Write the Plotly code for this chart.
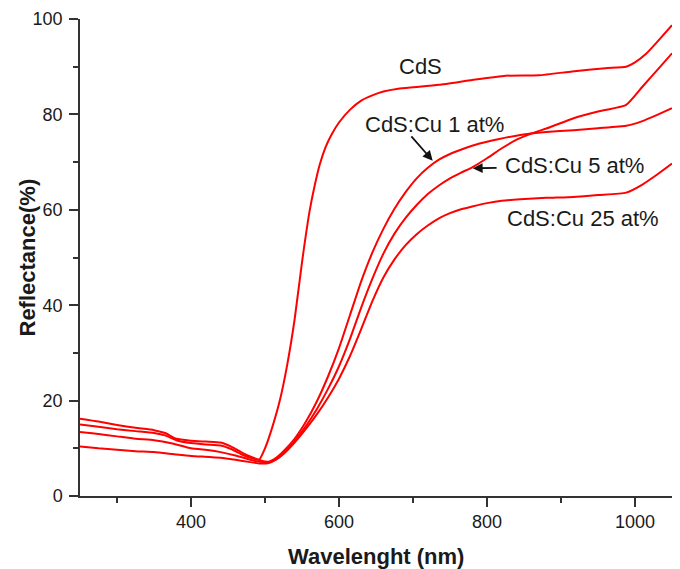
import plotly.graph_objects as go

# Diffuse reflectance spectra of CdS and Cu-doped CdS films
wl_cds = [250, 275, 300, 325, 350, 365, 380, 400, 420, 440, 455, 470, 485, 492,
          500, 510, 520, 530, 540, 550, 560, 567, 574, 582, 590, 600, 615, 630,
          645, 660, 680, 700, 735, 780, 825, 870, 915, 960, 988, 1000, 1015, 1030, 1050]
r_cds = [15.0, 14.5, 14.0, 13.6, 13.2, 12.7, 11.7, 11.1, 10.8, 10.6, 9.8, 8.6, 7.8, 7.6,
         10.0, 14.5, 20.0, 27.5, 37.0, 49.0, 59.5, 65.0, 69.5, 73.2, 75.8, 78.3, 81.0, 82.9,
         84.0, 84.8, 85.4, 85.7, 86.2, 87.2, 88.1, 88.2, 89.0, 89.7, 90.0, 90.9, 92.7, 95.2, 98.7]

wl_cu1 = [250, 275, 300, 325, 350, 365, 380, 400, 420, 440, 455, 470, 485, 495,
          505, 515, 525, 540, 555, 570, 585, 600, 615, 630, 645, 660, 675, 690,
          705, 720, 735, 750, 770, 790, 815, 845, 880, 917, 950, 988, 1010, 1030, 1050]
r_cu1 = [16.2, 15.6, 14.9, 14.3, 13.8, 13.2, 12.0, 11.6, 11.4, 11.2, 10.3, 9.0, 8.0, 7.4,
         7.2, 8.0, 9.4, 12.0, 15.5, 19.8, 25.0, 31.0, 38.0, 45.0, 51.0, 56.0, 60.2, 63.7,
         66.6, 68.8, 70.5, 71.7, 72.9, 73.9, 74.8, 75.7, 76.3, 76.7, 77.1, 77.6, 78.6, 79.9, 81.3]

wl_cu5 = [250, 275, 300, 325, 350, 375, 400, 425, 440, 460, 480, 495, 505, 515,
          525, 540, 555, 570, 585, 600, 615, 630, 645, 660, 675, 690, 705, 720,
          735, 750, 765, 780, 800, 820, 840, 860, 885, 917, 950, 988, 1010, 1030, 1050]
r_cu5 = [13.4, 13.0, 12.5, 12.0, 11.7, 11.0, 10.0, 9.6, 9.2, 8.5, 7.6, 7.1, 7.0, 7.7,
         9.0, 11.5, 14.6, 18.2, 22.4, 27.2, 33.0, 39.5, 45.5, 50.8, 55.0, 58.3, 61.0, 63.3,
         65.1, 66.6, 67.8, 68.9, 70.8, 72.9, 74.7, 76.0, 77.3, 79.2, 80.6, 82.0, 85.8, 89.3, 92.8]

wl_cu25 = [250, 275, 300, 325, 350, 375, 400, 425, 440, 460, 480, 495, 505, 515,
           525, 540, 555, 570, 585, 600, 615, 630, 645, 660, 675, 690, 705, 720,
           735, 750, 765, 780, 800, 820, 845, 880, 917, 950, 988, 1010, 1030, 1050]
r_cu25 = [10.4, 10.0, 9.7, 9.4, 9.2, 8.8, 8.4, 8.2, 8.0, 7.6, 7.1, 6.8, 6.9, 7.6,
          8.8, 11.2, 14.0, 17.1, 20.6, 24.6, 29.4, 35.0, 40.8, 45.8, 49.6, 52.6, 54.9, 56.7,
          58.2, 59.3, 60.1, 60.7, 61.4, 61.9, 62.2, 62.5, 62.7, 63.1, 63.6, 65.3, 67.4, 69.7]

series = [
    ("CdS", wl_cds, r_cds),
    ("CdS:Cu 1 at%", wl_cu1, r_cu1),
    ("CdS:Cu 5 at%", wl_cu5, r_cu5),
    ("CdS:Cu 25 at%", wl_cu25, r_cu25),
]

FONT = "Liberation Sans, Arial, sans-serif"
AXIS = "#333333"
INK = "#1a1a1a"

fig = go.Figure()
for name, x, y in series:
    fig.add_trace(go.Scatter(
        x=x, y=y, name=name, mode="lines",
        line=dict(color="#ff0000", width=2, shape="spline", smoothing=0.5),
        showlegend=False,
    ))

axis_common = dict(
    showline=True, linecolor=AXIS, linewidth=1.5,
    ticks="outside", ticklen=9, tickwidth=1.5, tickcolor=AXIS,
    showgrid=False, zeroline=False, mirror=False,
    tickfont=dict(family=FONT, size=18, color=INK),
)

fig.update_xaxes(range=[250, 1050], tick0=0, dtick=200,
                 minor=dict(dtick=100, ticklen=5, tickwidth=1.5, tickcolor=AXIS,
                            ticks="outside", showgrid=False),
                 **axis_common)
fig.update_yaxes(range=[0, 100], tick0=0, dtick=20, ticklabelstandoff=3,
                 minor=dict(dtick=10, ticklen=5, tickwidth=1.5, tickcolor=AXIS,
                            ticks="outside", showgrid=False),
                 **axis_common)

# Axis titles
fig.add_annotation(text="<b>Wavelenght (nm)</b>", xref="paper", yref="paper",
                   x=0.5, y=0, yshift=-60, showarrow=False,
                   xanchor="center", yanchor="middle",
                   font=dict(family=FONT, size=22, color=INK))
fig.add_annotation(text="<b>Reflectance(%)</b>", xref="paper", yref="paper",
                   x=0, y=0.5, xshift=-53, showarrow=False, textangle=-90,
                   xanchor="center", yanchor="middle",
                   font=dict(family=FONT, size=22, color=INK))

# Curve labels
label_font = dict(family=FONT, size=22, color=INK)
labels = [
    ("CdS", 710.5, 90.0),
    ("CdS:Cu 1 at%", 729.7, 77.8),
    ("CdS:Cu 5 at%", 917.6, 69.2),
    ("CdS:Cu 25 at%", 930.2, 58.2),
]
for text, x, y in labels:
    fig.add_annotation(text=text, x=x, y=y, xref="x", yref="y", showarrow=False,
                       xanchor="center", yanchor="middle", font=label_font)

# Pointer arrows
arrows = [
    ((726.6, 70.3), (696.0, 75.7)),
    ((780.7, 68.7), (815.0, 68.8)),
]
for (hx, hy), (tx, ty) in arrows:
    fig.add_annotation(text="", x=hx, y=hy, ax=tx, ay=ty,
                       xref="x", yref="y", axref="x", ayref="y",
                       showarrow=True, arrowhead=2, arrowsize=1.1, arrowwidth=1.8,
                       arrowcolor="#111111", standoff=0, startstandoff=0)

fig.update_layout(
    width=680, height=569, autosize=False,
    margin=dict(l=80, r=8, t=19, b=73),
    paper_bgcolor="white", plot_bgcolor="white",
    font=dict(family=FONT, color=INK),
)

fig.write_html("out.html")
